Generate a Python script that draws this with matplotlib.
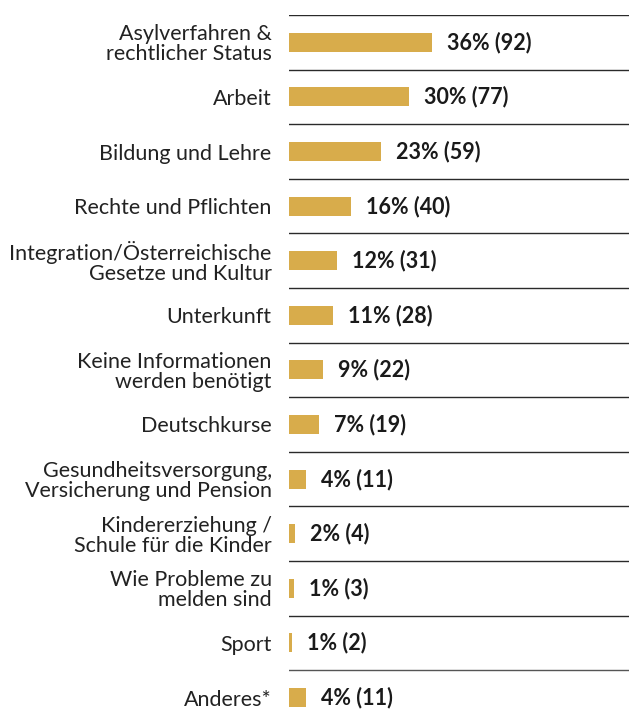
import matplotlib
matplotlib.use("Agg")
import matplotlib.pyplot as plt
from matplotlib import transforms

plt.rcParams['font.family'] = ['Lato', 'DejaVu Sans']

categories = [
    "Asylverfahren &\nrechtlicher Status",
    "Arbeit",
    "Bildung und Lehre",
    "Rechte und Pflichten",
    "Integration/Österreichische\nGesetze und Kultur",
    "Unterkunft",
    "Keine Informationen\nwerden benötigt",
    "Deutschkurse",
    "Gesundheitsversorgung,\nVersicherung und Pension",
    "Kindererziehung /\nSchule für die Kinder",
    "Wie Probleme zu\nmelden sind",
    "Sport",
    "Anderes*",
]
counts = [92, 77, 59, 40, 31, 28, 22, 19, 11, 4, 3, 2, 11]
percents = [36, 30, 23, 16, 12, 11, 9, 7, 4, 2, 1, 1, 4]

W, H, DPI = 629, 718, 100
fig = plt.figure(figsize=(W / DPI, H / DPI), dpi=DPI)

left_px, top_px = 289, 15
row_px = 54.6
ax = fig.add_axes([left_px / W, 0, 1 - left_px / W, (H - top_px) / H])
n = len(categories)
units = (H - top_px) / row_px
ax.set_ylim(-0.5 + units, -0.5)
px_per_count = 143 / 92
ax.set_xlim(0, (W - left_px) / px_per_count)

bar_color = "#D8AC4B"
ys = list(range(n))
ax.barh(ys, counts, height=19 / row_px, color=bar_color, edgecolor="none")

for i in range(n):
    ax.axhline(i - 0.5, color="#2a2a2a" if i < n - 1 else "#555555", lw=1.0, zorder=3)

offset = transforms.offset_copy(ax.transData, fig=fig, x=15, y=0, units='dots')
for y, c, p in zip(ys, counts, percents):
    ax.text(c, y, f"{p}% ({c})", transform=offset, ha="left", va="center",
            fontsize=15.5, fontweight="bold", color="#1a1a1a")

ax.set_yticks(ys)
ax.set_yticklabels(categories, fontsize=15.5, color="#222222", linespacing=1.0)
ax.tick_params(axis='y', length=0, pad=12.5)
ax.set_xticks([])
for s in ax.spines.values():
    s.set_visible(False)

fig.savefig("out.png", dpi=DPI)
